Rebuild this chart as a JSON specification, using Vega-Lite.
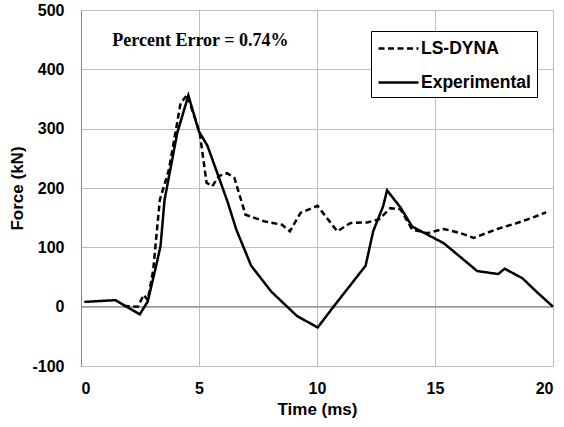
{
  "$schema": "https://vega.github.io/schema/vega-lite/v6.json",
  "autosize": {"type": "none"},
  "width": 472,
  "height": 356,
  "padding": {"left": 81, "top": 10, "right": 11, "bottom": 61},
  "background": "white",
  "config": {
    "view": {"stroke": null},
    "axis": {
      "labelFont": "Liberation Sans",
      "labelFontWeight": "bold",
      "labelFontSize": 16,
      "labelColor": "black",
      "titleFont": "Liberation Sans",
      "titleFontWeight": "bold",
      "titleFontSize": 17,
      "titleColor": "black",
      "gridColor": "#bebebe",
      "gridWidth": 1,
      "gridOpacity": 1,
      "ticks": false
    }
  },
  "layer": [
    {
      "data": {"values": [{"zero": 0}]},
      "mark": {"type": "rule", "color": "#868686", "strokeWidth": 1},
      "encoding": {"y": {"field": "zero", "type": "quantitative"}}
    },
    {
      "data": {
        "values": [
          {"series": "Experimental", "t": 0.14, "f": 8},
          {"series": "Experimental", "t": 1.46, "f": 11},
          {"series": "Experimental", "t": 2.49, "f": -13},
          {"series": "Experimental", "t": 2.83, "f": 9},
          {"series": "Experimental", "t": 3.16, "f": 65},
          {"series": "Experimental", "t": 3.37, "f": 102},
          {"series": "Experimental", "t": 3.54, "f": 180},
          {"series": "Experimental", "t": 4.08, "f": 293},
          {"series": "Experimental", "t": 4.55, "f": 356},
          {"series": "Experimental", "t": 4.99, "f": 296},
          {"series": "Experimental", "t": 5.36, "f": 271},
          {"series": "Experimental", "t": 6.2, "f": 178},
          {"series": "Experimental", "t": 6.58, "f": 130},
          {"series": "Experimental", "t": 7.21, "f": 69},
          {"series": "Experimental", "t": 8.07, "f": 25},
          {"series": "Experimental", "t": 9.16, "f": -16},
          {"series": "Experimental", "t": 10.03, "f": -35},
          {"series": "Experimental", "t": 10.7, "f": 0},
          {"series": "Experimental", "t": 12.06, "f": 69},
          {"series": "Experimental", "t": 12.38, "f": 127},
          {"series": "Experimental", "t": 12.8, "f": 169},
          {"series": "Experimental", "t": 12.97, "f": 196},
          {"series": "Experimental", "t": 13.54, "f": 167},
          {"series": "Experimental", "t": 14.03, "f": 135},
          {"series": "Experimental", "t": 15.37, "f": 107},
          {"series": "Experimental", "t": 16.79, "f": 60},
          {"series": "Experimental", "t": 17.68, "f": 55},
          {"series": "Experimental", "t": 17.95, "f": 64},
          {"series": "Experimental", "t": 18.7, "f": 48},
          {"series": "Experimental", "t": 19.36, "f": 23},
          {"series": "Experimental", "t": 20.0, "f": 0},
          {"series": "LS-DYNA", "t": 1.81, "f": 1},
          {"series": "LS-DYNA", "t": 2.41, "f": 0},
          {"series": "LS-DYNA", "t": 2.66, "f": 20},
          {"series": "LS-DYNA", "t": 2.83, "f": 11},
          {"series": "LS-DYNA", "t": 3.06, "f": 62},
          {"series": "LS-DYNA", "t": 3.34, "f": 180},
          {"series": "LS-DYNA", "t": 3.72, "f": 230},
          {"series": "LS-DYNA", "t": 4.0, "f": 293},
          {"series": "LS-DYNA", "t": 4.22, "f": 343},
          {"series": "LS-DYNA", "t": 4.5, "f": 357},
          {"series": "LS-DYNA", "t": 5.03, "f": 293},
          {"series": "LS-DYNA", "t": 5.32, "f": 209},
          {"series": "LS-DYNA", "t": 5.56, "f": 203},
          {"series": "LS-DYNA", "t": 5.84, "f": 220},
          {"series": "LS-DYNA", "t": 6.19, "f": 225},
          {"series": "LS-DYNA", "t": 6.5, "f": 217},
          {"series": "LS-DYNA", "t": 6.97, "f": 155},
          {"series": "LS-DYNA", "t": 7.75, "f": 144},
          {"series": "LS-DYNA", "t": 8.52, "f": 138},
          {"series": "LS-DYNA", "t": 8.85, "f": 127},
          {"series": "LS-DYNA", "t": 9.3, "f": 158},
          {"series": "LS-DYNA", "t": 10.02, "f": 170},
          {"series": "LS-DYNA", "t": 10.86, "f": 127},
          {"series": "LS-DYNA", "t": 11.42, "f": 141},
          {"series": "LS-DYNA", "t": 12.13, "f": 142},
          {"series": "LS-DYNA", "t": 12.62, "f": 147},
          {"series": "LS-DYNA", "t": 13.11, "f": 166},
          {"series": "LS-DYNA", "t": 13.54, "f": 164},
          {"series": "LS-DYNA", "t": 14.03, "f": 130},
          {"series": "LS-DYNA", "t": 14.67, "f": 124},
          {"series": "LS-DYNA", "t": 15.37, "f": 131},
          {"series": "LS-DYNA", "t": 16.08, "f": 124},
          {"series": "LS-DYNA", "t": 16.64, "f": 116},
          {"series": "LS-DYNA", "t": 17.64, "f": 131},
          {"series": "LS-DYNA", "t": 18.48, "f": 141},
          {"series": "LS-DYNA", "t": 19.19, "f": 151},
          {"series": "LS-DYNA", "t": 19.71, "f": 159}
        ]
      },
      "mark": {"type": "line", "strokeWidth": 2.5, "strokeJoin": "miter"},
      "encoding": {
        "x": {
          "field": "t",
          "type": "quantitative",
          "title": "Time (ms)",
          "scale": {"domain": [0, 20], "nice": false},
          "axis": {
            "values": [0, 5, 10, 15, 20],
            "domain": false,
            "labelPadding": 14,
            "titlePadding": 5
          }
        },
        "y": {
          "field": "f",
          "type": "quantitative",
          "title": "Force (kN)",
          "scale": {"domain": [-100, 500], "nice": false, "zero": false},
          "axis": {
            "values": [-100, 0, 100, 200, 300, 400, 500],
            "labelExpr": "'' + datum.value",
            "domain": true,
            "domainColor": "#868686",
            "domainWidth": 1,
            "labelPadding": 17,
            "titlePadding": 5
          }
        },
        "color": {
          "field": "series",
          "type": "nominal",
          "scale": {"domain": ["LS-DYNA", "Experimental"], "range": ["black", "black"]},
          "legend": {
            "title": null,
            "orient": "none",
            "legendX": 290,
            "legendY": 21,
            "padding": 6,
            "strokeColor": "black",
            "fillColor": "white",
            "symbolType": "M-1,0H3",
            "symbolSize": 400,
            "symbolStrokeWidth": 2.5,
            "labelFont": "Liberation Sans",
            "labelFontWeight": "bold",
            "labelFontSize": 17.5,
            "labelColor": "black",
            "labelOffset": 21,
            "rowPadding": 14
          }
        },
        "strokeDash": {
          "field": "series",
          "type": "nominal",
          "scale": {"domain": ["LS-DYNA", "Experimental"], "range": [[6, 3.5], [1, 0]]},
          "legend": null
        }
      }
    },
    {
      "data": {"values": [{"t": 5.06, "f": 439, "label": "Percent Error = 0.74%"}]},
      "mark": {
        "type": "text",
        "font": "Liberation Serif",
        "fontWeight": "bold",
        "fontSize": 18,
        "align": "center",
        "baseline": "alphabetic",
        "color": "black"
      },
      "encoding": {
        "x": {"field": "t", "type": "quantitative"},
        "y": {"field": "f", "type": "quantitative"},
        "text": {"field": "label"}
      }
    }
  ]
}
